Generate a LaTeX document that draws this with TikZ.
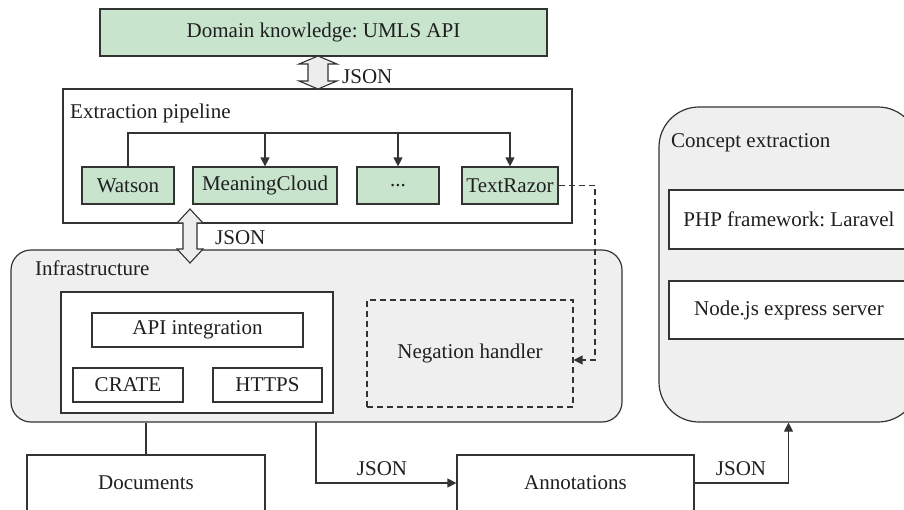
\documentclass[tikz,border=0pt]{standalone}
\usepackage{fontspec}
\setmainfont{Liberation Serif}
\usetikzlibrary{arrows.meta,calc}
\definecolor{boxgreen}{HTML}{C8E4CD}
\definecolor{panelgray}{HTML}{EFEFEF}
\definecolor{linecol}{HTML}{333333}
\definecolor{arrowgray}{HTML}{EDEDED}
\frenchspacing
\begin{document}
\begin{tikzpicture}[x=1pt,y=-1pt,
  every node/.style={font=\fontsize{21}{24}\selectfont, text=black!88},
  base/.style={draw=linecol, line width=1.2pt},
  greenbox/.style={base, rectangle, fill=boxgreen, inner sep=0pt},
  whitebox/.style={base, rectangle, fill=white, inner sep=0pt},
  panel/.style={base, rectangle, fill=panelgray, inner sep=0pt},
  dashbox/.style={draw=linecol, line width=1.2pt, dash pattern=on 6pt off 4pt, fill=panelgray, inner sep=0pt},
  conn/.style={draw=linecol, line width=1.2pt},
  tip/.style={conn, -{Triangle[length=9pt,width=9pt]}},
  dconn/.style={conn, dash pattern=on 6pt off 4pt, -{Triangle[length=9pt,width=9pt]}},
  fatarrow/.style={draw=linecol, line width=1.1pt, fill=arrowgray, line join=miter},
  lbl/.style={anchor=west, inner sep=0pt},
]
\useasboundingbox (0,0) rectangle (904,509);
\clip (0,0) rectangle (904,509);

% Domain knowledge
\node[greenbox, minimum width=447pt, minimum height=47pt] (dom) at (323.5,32.5) {Domain knowledge: UMLS API};

% Extraction pipeline
\node[whitebox, minimum width=509pt, minimum height=134pt] (pipe) at (317.5,156) {};
\node[lbl] (pipelbl) at (70,113) {Extraction pipeline};
\node[greenbox, minimum width=92pt, minimum height=37pt] (watson) at (128,185.5) {Watson};
\node[greenbox, minimum width=144pt, minimum height=37pt] (mc) at (265,185.5) {MeaningCloud};
\node[greenbox, minimum width=82pt, minimum height=37pt] (dots) at (398,185.5) {...};
\node[greenbox, minimum width=96pt, minimum height=37pt] (tr) at (510,185.5) {TextRazor};
\coordinate (busR) at (510,133);
\draw[tip] (watson.north) |- (busR) -- (tr.north);
\draw[tip] (mc.north |- busR) -- (mc.north);
\draw[tip] (dots.north |- busR) -- (dots.north);

% Infrastructure
\node[panel, rounded corners=20pt, minimum width=611pt, minimum height=172pt] (infra) at (316.5,336) {};
\node[lbl] (infralbl) at (35,268) {Infrastructure};
\node[whitebox, minimum width=272pt, minimum height=121pt] (inner) at (197,352.5) {};
\node[whitebox, minimum width=211pt, minimum height=34pt] (api) at (197.5,330) {API integration};
\node[whitebox, minimum width=110pt, minimum height=34pt] (crate) at (128,385) {CRATE};
\node[whitebox, minimum width=109pt, minimum height=34pt] (https) at (267.5,385) {HTTPS};
\node[dashbox, minimum width=206pt, minimum height=107pt] (neg) at (470,353.5) {Negation handler};

% Concept extraction
\node[panel, rounded corners=40pt, minimum width=259pt, minimum height=315pt] (concept) at (788.5,264.5) {};
\node[lbl] (conceptlbl) at (671,143) {Concept extraction};
\node[whitebox, minimum width=240pt, minimum height=59pt] (php) at (789,219.5) {PHP framework: Laravel};
\node[whitebox, minimum width=240pt, minimum height=58pt] (nodejs) at (789,310) {Node.js express server};

% Bottom boxes
\node[whitebox, minimum width=238pt, minimum height=56pt] (docs) at (146,483) {Documents};
\node[whitebox, minimum width=237pt, minimum height=56pt] (annot) at (575.5,483) {Annotations};

% Connectors
\draw[conn] (docs.north |- infra.south) -- (docs.north);
\coordinate (infraOut) at (316,422);
\draw[tip] (infraOut) |- (annot.west);
\node[anchor=south, inner sep=0pt] (json3) at (382,476) {JSON};
\draw[tip] (annot.east) -| (concept.south);
\node[anchor=south, inner sep=0pt] (json4) at (741,476) {JSON};
\coordinate (dashC) at (595,360);
\draw[dconn] (tr.east) -| (dashC) -- (neg.east |- dashC);

% Fat double arrows
\newcommand{\fatarr}[5]{%
  \draw[fatarrow] (#1) -- ($(#1)+(#4,#5)$) -- ($(#1)+(#3,#5)$) -- ($(#2)+(#3,-#5)$)
    -- ($(#2)+(#4,-#5)$) -- (#2) -- ($(#2)+(-#4,-#5)$) -- ($(#2)+(-#3,-#5)$)
    -- ($(#1)+(-#3,#5)$) -- ($(#1)+(-#4,#5)$) -- cycle;}
\coordinate (uaTop) at (318,56);
\coordinate (uaBot) at (318,89);
\fatarr{uaTop}{uaBot}{10}{19}{8}
\node[anchor=west, inner sep=0pt] (json1) at (342,77) {JSON};
\coordinate (laTop) at (190,209);
\coordinate (laBot) at (190,263);
\fatarr{laTop}{laBot}{7}{13}{14}
\node[anchor=west, inner sep=0pt] (json2) at (215,238) {JSON};
\end{tikzpicture}
\end{document}
